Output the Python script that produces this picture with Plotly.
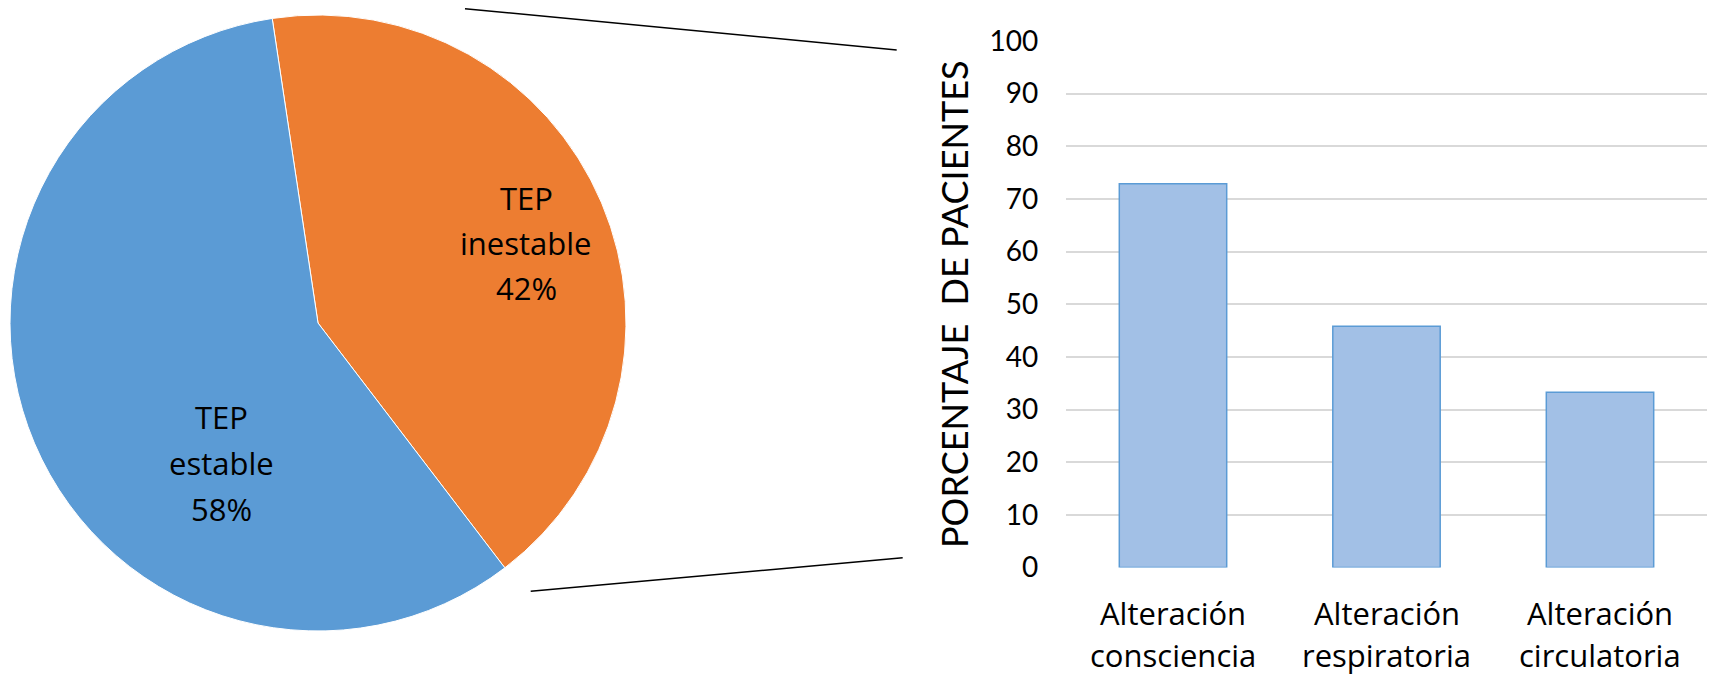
import plotly.graph_objects as go

# --- data ---
pie_labels = ["TEP inestable", "TEP estable"]
pie_label_lines = [["TEP", "inestable"], ["TEP", "estable"]]
pie_values = [42, 58]
pie_colors = ["#ED7D31", "#5B9BD5"]

categories = ["Alteración consciencia", "Alteración respiratoria", "Alteración circulatoria"]
category_lines = [["Alteración", "consciencia"], ["Alteración", "respiratoria"], ["Alteración", "circulatoria"]]
percent_patients = [72.9, 45.8, 33.3]
y_ticks = [0, 10, 20, 30, 40, 50, 60, 70, 80, 90, 100]

W, H = 1713, 680
TEXT_FONT = "Open Sans"
AXIS_FONT = "Lato"
TEXT_COLOR = "#000000"


def px(x):
    return x / W


def py(y):
    return 1 - y / H


fig = go.Figure()

# pie: first slice starts just left of 12 o'clock, drawn clockwise
fig.add_trace(go.Pie(
    labels=pie_labels,
    values=pie_values,
    marker=dict(colors=pie_colors, line=dict(color="#FFFFFF", width=1)),
    sort=False,
    direction="clockwise",
    rotation=-8.55,
    textinfo="none",
    hoverinfo="label+percent",
    showlegend=False,
    domain=dict(x=[px(10), px(626)], y=[py(631), py(15)]),
))

# bar chart on the right
fig.add_trace(go.Bar(
    x=categories,
    y=percent_patients,
    marker=dict(color="#A2C0E6", line=dict(color="#5B9BD5", width=1.5)),
    width=0.503,
    showlegend=False,
    hovertemplate="%{x}: %{y:.1f}%<extra></extra>",
    xaxis="x", yaxis="y",
))

fig.update_layout(
    width=W, height=H,
    margin=dict(l=0, r=0, t=0, b=0, pad=0, autoexpand=False),
    paper_bgcolor="#FFFFFF",
    plot_bgcolor="#FFFFFF",
    font=dict(family=TEXT_FONT, color=TEXT_COLOR, size=30),
    xaxis=dict(
        domain=[px(1066.25), px(1706.75)],
        range=[-0.5, 2.5],
        showticklabels=False,
        showgrid=False, zeroline=False, showline=False,
        automargin=False,
        fixedrange=True,
    ),
    yaxis=dict(
        domain=[py(567.5), py(41)],
        range=[0, 100],
        tickvals=y_ticks,
        showgrid=True, gridcolor="#D9D9D9", gridwidth=1.5,
        zeroline=False, showline=False,
        ticks="",
        ticklabelstandoff=27,
        tickfont=dict(size=28, family=AXIS_FONT, color=TEXT_COLOR),
        automargin=False,
        fixedrange=True,
    ),
    bargap=0.497,
)

annotations = []

# pie labels, one annotation per line
total = sum(pie_values)
pie_label_pos = [(526, [197, 242, 287]), (221, [416, 462, 508])]
for lines, v, (cx, ys) in zip(pie_label_lines, pie_values, pie_label_pos):
    texts = lines + [f"{round(100 * v / total)}%"]
    for t, yy in zip(texts, ys):
        annotations.append(dict(
            text=t, x=px(cx), y=py(yy + 1), xref="paper", yref="paper",
            xanchor="center", yanchor="middle", showarrow=False,
            font=dict(size=31, family=TEXT_FONT, color=TEXT_COLOR),
        ))

# category labels under the bars
for cat, lines in zip(categories, category_lines):
    for t, yy in zip(lines, [613, 655]):
        annotations.append(dict(
            text=t, x=cat, y=py(yy), xref="x", yref="paper",
            xanchor="center", yanchor="middle", showarrow=False,
            font=dict(size=31, family=TEXT_FONT, color=TEXT_COLOR),
        ))

# value axis title
annotations.append(dict(
    text="PORCENTAJE  DE PACIENTES", x=px(954), y=py(304),
    xref="paper", yref="paper", xanchor="center", yanchor="middle",
    textangle=-90, showarrow=False,
    font=dict(size=36, family=AXIS_FONT, color=TEXT_COLOR),
))

fig.update_layout(annotations=annotations)

# connector lines from the pie to the bar chart
for (x0, y0, x1, y1) in [(465, 8.7, 896.7, 50), (530.7, 591.3, 902.7, 557.7)]:
    fig.add_shape(type="line", xref="paper", yref="paper",
                  x0=px(x0), y0=py(y0), x1=px(x1), y1=py(y1),
                  line=dict(color="#000000", width=1.5))

fig.write_html("out.html")
